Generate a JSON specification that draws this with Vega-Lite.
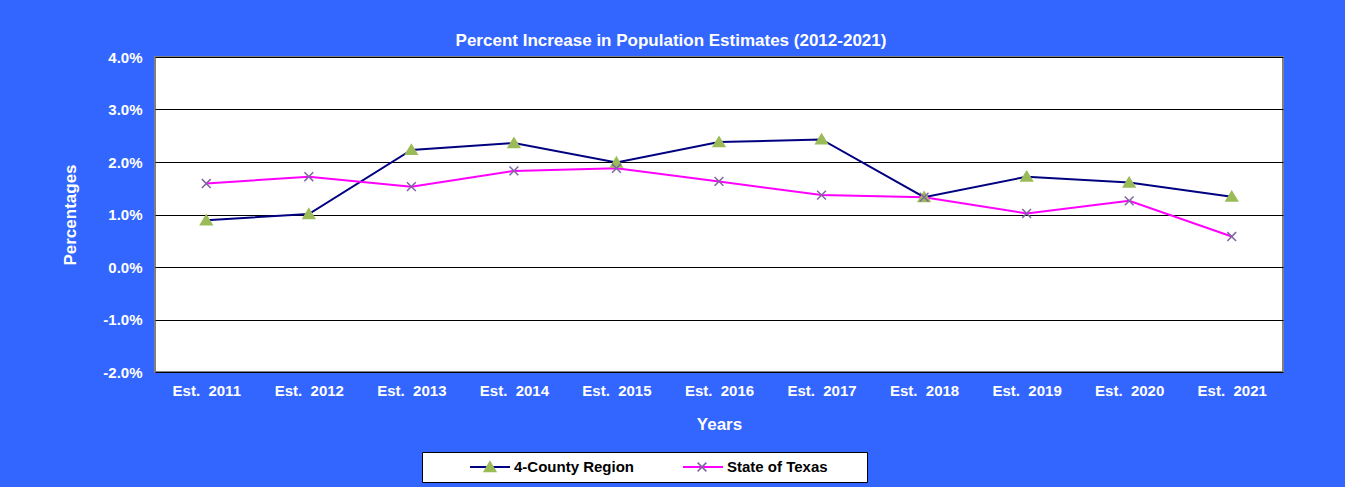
{
  "$schema": "https://vega.github.io/schema/vega-lite/v6.json",
  "autosize": {"type": "none"},
  "width": 1128,
  "height": 315,
  "padding": {"left": 155, "top": 57, "right": 62, "bottom": 115},
  "background": "#3366FF",
  "title": {
    "text": "Percent Increase in Population Estimates (2012-2021)",
    "font": "Liberation Sans",
    "fontSize": 17,
    "fontWeight": "bold",
    "color": "white",
    "anchor": "middle",
    "frame": "group",
    "dx": -48,
    "offset": 0
  },
  "config": {
    "view": {"fill": "white", "stroke": "#808080", "strokeWidth": 2},
    "font": "Liberation Sans"
  },
  "data": {
    "values": [
      {"year": "Est.\u00a0 2011", "series": "4-County Region", "value": 0.89},
      {"year": "Est.\u00a0 2012", "series": "4-County Region", "value": 1.01},
      {"year": "Est.\u00a0 2013", "series": "4-County Region", "value": 2.23},
      {"year": "Est.\u00a0 2014", "series": "4-County Region", "value": 2.36},
      {"year": "Est.\u00a0 2015", "series": "4-County Region", "value": 1.99},
      {"year": "Est.\u00a0 2016", "series": "4-County Region", "value": 2.38},
      {"year": "Est.\u00a0 2017", "series": "4-County Region", "value": 2.43},
      {"year": "Est.\u00a0 2018", "series": "4-County Region", "value": 1.33},
      {"year": "Est.\u00a0 2019", "series": "4-County Region", "value": 1.72},
      {"year": "Est.\u00a0 2020", "series": "4-County Region", "value": 1.61},
      {"year": "Est.\u00a0 2021", "series": "4-County Region", "value": 1.34},
      {"year": "Est.\u00a0 2011", "series": "State of Texas", "value": 1.59},
      {"year": "Est.\u00a0 2012", "series": "State of Texas", "value": 1.72},
      {"year": "Est.\u00a0 2013", "series": "State of Texas", "value": 1.53},
      {"year": "Est.\u00a0 2014", "series": "State of Texas", "value": 1.83},
      {"year": "Est.\u00a0 2015", "series": "State of Texas", "value": 1.88},
      {"year": "Est.\u00a0 2016", "series": "State of Texas", "value": 1.63},
      {"year": "Est.\u00a0 2017", "series": "State of Texas", "value": 1.37},
      {"year": "Est.\u00a0 2018", "series": "State of Texas", "value": 1.33},
      {"year": "Est.\u00a0 2019", "series": "State of Texas", "value": 1.02},
      {"year": "Est.\u00a0 2020", "series": "State of Texas", "value": 1.26},
      {"year": "Est.\u00a0 2021", "series": "State of Texas", "value": 0.58}
    ]
  },
  "encoding": {
    "x": {
      "field": "year",
      "type": "ordinal",
      "sort": null,
      "scale": {"type": "point", "padding": 0.5},
      "axis": {
        "labelAngle": 0,
        "labelFontSize": 15,
        "labelFontWeight": "bold",
        "labelColor": "white",
        "labelPadding": 11,
        "ticks": false,
        "domain": false,
        "grid": false,
        "title": "Years",
        "titleFontSize": 17,
        "titleFontWeight": "bold",
        "titleColor": "white",
        "titlePadding": 18
      }
    },
    "y": {
      "field": "value",
      "type": "quantitative",
      "scale": {"domain": [-2, 4], "nice": false, "zero": false},
      "axis": {
        "values": [-2, -1, 0, 1, 2, 3, 4],
        "labelExpr": "(datum.value < 0 ? '-' : '') + format(abs(datum.value), '.1f') + '%'",
        "labelFontSize": 15,
        "labelFontWeight": "bold",
        "labelColor": "white",
        "labelPadding": 13,
        "ticks": false,
        "domain": false,
        "grid": true,
        "gridColor": "black",
        "gridOpacity": 1,
        "gridWidth": 1,
        "title": "Percentages",
        "titleFontSize": 17,
        "titleFontWeight": "bold",
        "titleColor": "white",
        "titlePadding": 23
      }
    }
  },
  "layer": [
    {
      "mark": {"type": "line", "strokeWidth": 2},
      "encoding": {
        "color": {
          "field": "series",
          "type": "nominal",
          "scale": {"range": ["#000080", "#FF00FF"]},
          "legend": {
            "orient": "none",
            "legendX": 267,
            "legendY": 395,
            "direction": "horizontal",
            "fillColor": "white",
            "strokeColor": "black",
            "padding": 6,
            "cornerRadius": 0,
            "title": "\u00a0",
            "titleOrient": "left",
            "titleFontSize": 15,
            "titlePadding": 41,
            "labelFontSize": 15,
            "labelFontWeight": "bold",
            "labelColor": "black",
            "labelOffset": 3,
            "labelLimit": 600,
            "labelExpr": "datum.label == 'State of Texas' ? datum.label + '\u00a0\u00a0\u00a0\u00a0\u00a0\u00a0\u00a0\u00a0\u200b' : datum.label",
            "symbolType": "stroke",
            "symbolSize": 1600,
            "symbolStrokeWidth": 2,
            "columnPadding": 48,
            "clipHeight": 18
          }
        }
      }
    },
    {
      "mark": {"type": "point", "size": 1600, "opacity": 1, "strokeWidth": 1.5},
      "encoding": {
        "shape": {
          "field": "series",
          "type": "nominal",
          "scale": {
            "domain": ["4-County Region", "State of Texas"],
            "range": ["M0,-0.26L0.29,0.22L-0.29,0.22Z", "M-0.22,-0.22L0.22,0.22M-0.22,0.22L0.22,-0.22"]
          },
          "legend": {
            "orient": "none",
            "legendX": 267,
            "legendY": 395,
            "direction": "horizontal",
            "padding": 6,
            "title": "\u00a0",
            "titleOrient": "left",
            "titleFontSize": 15,
            "titlePadding": 41,
            "labelFontSize": 15,
            "labelFontWeight": "bold",
            "labelOffset": 3,
            "labelExpr": "''",
            "symbolSize": 1600,
            "symbolStrokeWidth": 1.5,
            "symbolOpacity": 1,
            "columnPadding": 167,
            "clipHeight": 18
          }
        },
        "fill": {
          "field": "series",
          "type": "nominal",
          "scale": {
            "domain": ["4-County Region", "State of Texas"],
            "range": ["#9BBB59", "transparent"]
          }
        },
        "stroke": {
          "field": "series",
          "type": "nominal",
          "scale": {
            "domain": ["4-County Region", "State of Texas"],
            "range": ["#9BBB59", "#8064A2"]
          }
        }
      }
    }
  ]
}
